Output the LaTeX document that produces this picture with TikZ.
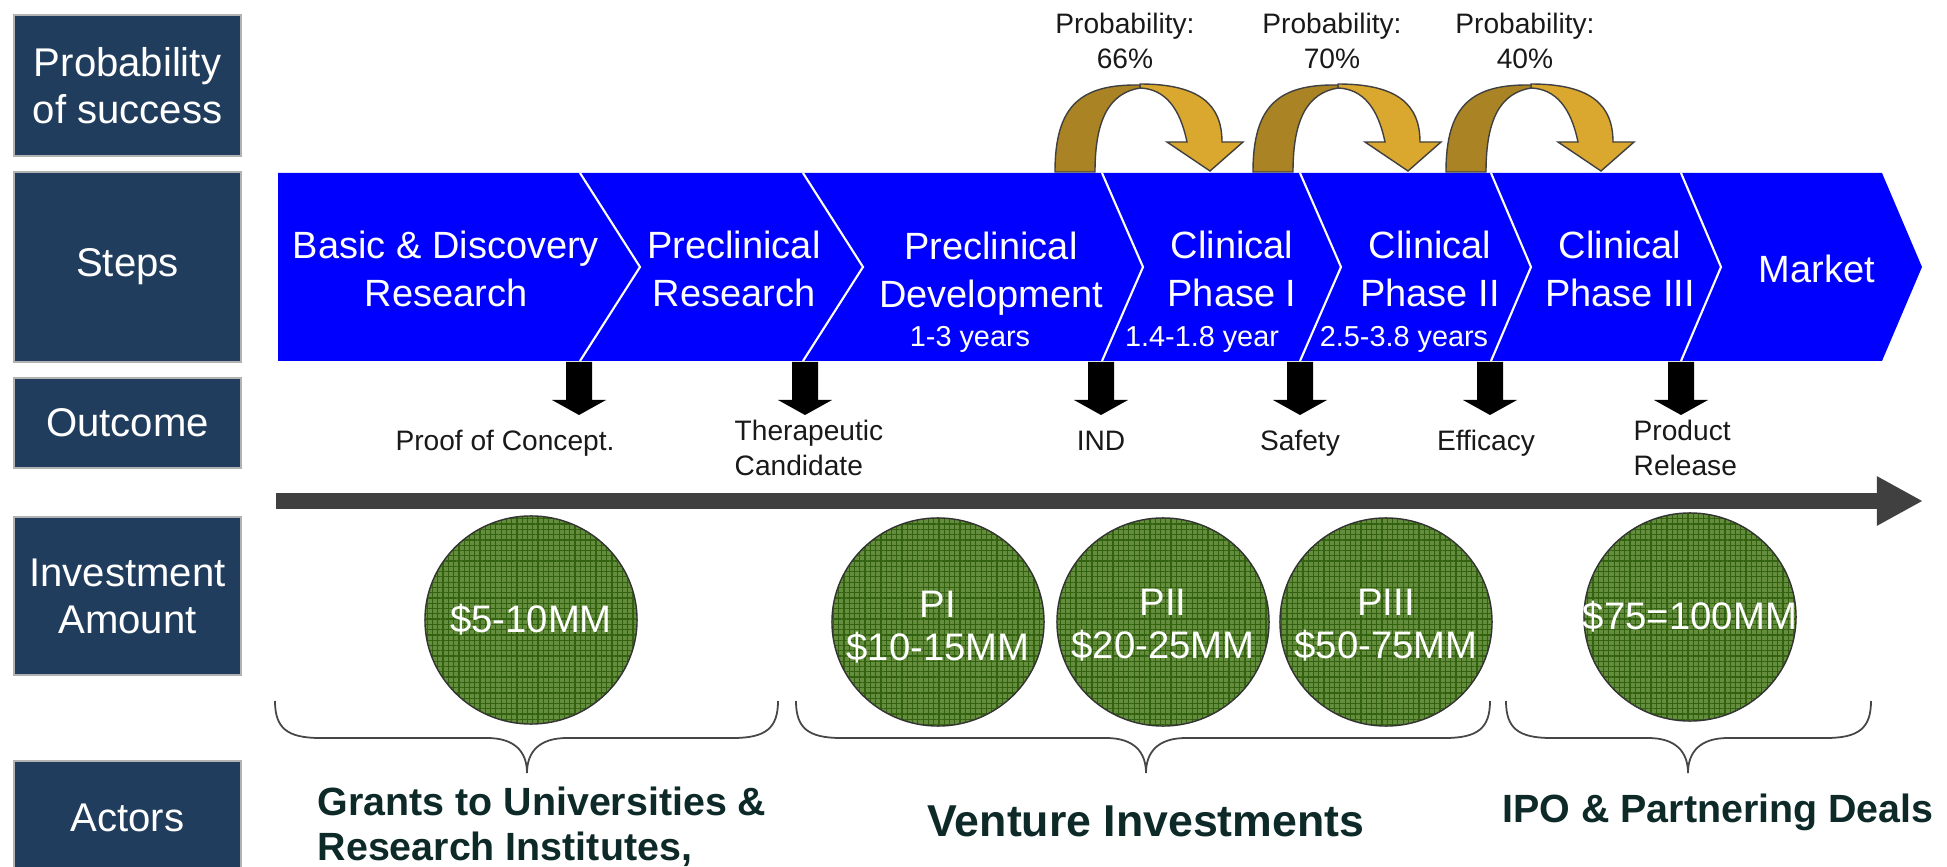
\documentclass[tikz,border=0pt]{standalone}
\usepackage{fontspec}
\setmainfont{Liberation Sans}
\usepackage{xcolor}
\usetikzlibrary{calc,positioning,arrows.meta,shapes.geometric,patterns.meta}
\definecolor{navy}{RGB}{33,61,94}
\definecolor{stepblue}{RGB}{0,0,255}
\definecolor{golddk}{RGB}{170,132,36}
\definecolor{goldlt}{RGB}{218,168,46}
\definecolor{leaf}{RGB}{100,142,62}
\definecolor{leafgrid}{RGB}{50,98,16}
\definecolor{txtdk}{RGB}{25,25,25}
\definecolor{actdk}{RGB}{14,42,40}
\definecolor{lane}{RGB}{64,64,64}

\begin{document}
\begin{tikzpicture}[x=0.01cm, y=-0.01cm,
  hdr/.style={fill=navy, draw=gray!60, text=white, align=center, inner sep=0pt, minimum width=2.27cm, font=\fontsize{11.4}{13.4}\selectfont},
  stp/.style={text=white, align=center, inner sep=0pt, font=\fontsize{10.8}{13.7}\selectfont},
  yrs/.style={text=white, inner sep=0pt, anchor=base, font=\fontsize{8.2}{9.5}\selectfont},
  lbl/.style={text=txtdk, inner sep=0pt, font=\fontsize{8}{10}\selectfont}]
\tikzstyle{amt}=[ellipse, draw=gray!40!black, line width=0.4pt, preaction={fill=leaf}, pattern={Hatch[angle=0,distance=1.5pt,line width=0.35pt]}, pattern color=leafgrid, inner sep=0pt, minimum width=2.12cm, minimum height=2.08cm]
\tikzstyle{amttxt}=[text=white, align=center, inner sep=0pt, font=\fontsize{10.9}{12.2}\selectfont]
\tikzstyle{act}=[text=actdk, inner sep=0pt, font=\bfseries\fontsize{11.2}{12.8}\selectfont]
\tikzstyle{arr}=[draw=gray!50!black, line width=0.4pt]
\tikzstyle{brc}=[draw=gray!55!black, line width=0.5pt]
\useasboundingbox (0,0) rectangle (1947,867);
\fill[white] (0,0) rectangle (1947,867);

% row headers
\node[hdr, minimum height=1.41cm] (hp) at (127.5,85.5) {Probability\\of success};
\node[hdr, minimum height=1.90cm] (hs) at (127.5,267) {Steps};
\node[hdr, minimum height=0.90cm] (ho) at (127.5,423) {Outcome};
\node[hdr, minimum height=1.58cm] (hi) at (127.5,596) {Investment\\Amount};
\node[hdr, minimum height=1.14cm] (ha) at (127.5,818) {Actors};

% steps band
\fill[stepblue] (278,173) -- (1882,173) -- (1922,267) -- (1882,361) -- (278,361) -- cycle;
\foreach \b/\o in {580/60,803/60,1102/41,1300/41,1491/40,1681/40}{\draw[white, line width=0.6pt] (\b,173) -- (\b+\o,267) -- (\b,361);}
\node[stp] (s1) at (446,269) {Basic \& Discovery\\Research};
\node[stp] (s2) at (734,269) {Preclinical\\Research};
\node[stp] (s3) at (991,274) {Preclinical\\Development};
\node[stp] (s4) at (1232,269) {Clinical\\Phase I};
\node[stp] (s5) at (1430,269) {Clinical\\Phase II};
\node[stp] (s6) at (1620,269) {Clinical\\Phase III};
\node[stp] (s7) at (1817,269) {Market};
\node[yrs] (y3) at (970,347) {1-3 years};
\node[yrs] (y4) at (1202,347) {1.4-1.8 year};
\node[yrs] (y5) at (1404,347) {2.5-3.8 years};

% probability arrows
\foreach \x in {1055,1253,1446}{\begin{scope}[shift={(\x,0)}]
\filldraw[arr, fill=goldlt] (85,84) .. controls (145,84) and (167,105) .. (167,142) -- (188,142) -- (155,171) -- (112,142) -- (132,142) .. controls (125,108) and (110,89) .. (85,88) -- cycle;
\filldraw[arr, fill=golddk] (0,172) .. controls (0,106) and (25,84) .. (85,85) -- (85,88) .. controls (55,93) and (40,118) .. (40,172) -- cycle;
\end{scope}}
\node[lbl, align=center] (p1) at (1125,41) {Probability:\\66\%};
\node[lbl, align=center] (p2) at (1332,41) {Probability:\\70\%};
\node[lbl, align=center] (p3) at (1525,41) {Probability:\\40\%};

% outcomes
\foreach \x in {579,805,1101,1300,1490,1681}{\fill[black] (\x-13,362) -- (\x+13,362) -- (\x+13,400) -- (\x+27,400) -- (\x,415) -- (\x-27,400) -- (\x-13,400) -- cycle;}
\node[lbl, anchor=base] (o1) at (505,451) {Proof of Concept.};
\node[lbl, anchor=west, align=left] (o2) at (734,448) {Therapeutic\\Candidate};
\node[lbl, anchor=base] (o3) at (1101,451) {IND};
\node[lbl, anchor=base] (o4) at (1300,451) {Safety};
\node[lbl, anchor=base] (o5) at (1486,451) {Efficacy};
\node[lbl, anchor=west, align=left] (o6) at (1633,448) {Product\\Release};

% time line
\coordinate (tl) at (276,501);
\coordinate (tr) at (1923,501);
\draw[lane, line width=0.15cm, -{Triangle[length=0.46cm,width=0.46cm]}] (tl) -- (tr);

% investments
\node[amt] (c1) at (531,620) {};
\node[amt] (c2) at (938,622) {};
\node[amt] (c3) at (1163,622) {};
\node[amt] (c4) at (1386,622) {};
\node[amt] (c5) at (1690,617) {};
\node[amttxt] at (c1) {\$5-10MM};
\node[amttxt] at ([yshift=-0.05cm]c2) {PI\\\$10-15MM};
\node[amttxt] at ([yshift=-0.03cm]c3) {PII\\\$20-25MM};
\node[amttxt] at ([yshift=-0.03cm]c4) {PIII\\\$50-75MM};
\node[amttxt] at (c5) {\$75=100MM};

% actors
\foreach \l/\r/\t in {275/778/527,796/1490/1146,1506/1871/1688}{\draw[brc] (\l,701) .. controls (\l,728) and (\l+12,738) .. (\l+45,738) -- (\t-40,738) .. controls (\t-12,738) and (\t,752) .. (\t,773) .. controls (\t,752) and (\t+12,738) .. (\t+40,738) -- (\r-45,738) .. controls (\r-12,738) and (\r,728) .. (\r,701);}
\node[act, anchor=west, align=left] (a1) at (317,827) {Grants to Universities \&\\Research Institutes,};
\node[act, font=\bfseries\fontsize{12.7}{14}\selectfont] (a2) at (1146,821) {Venture Investments};
\node[act] (a3) at (1718,812) {IPO \& Partnering Deals};
\end{tikzpicture}
\end{document}
